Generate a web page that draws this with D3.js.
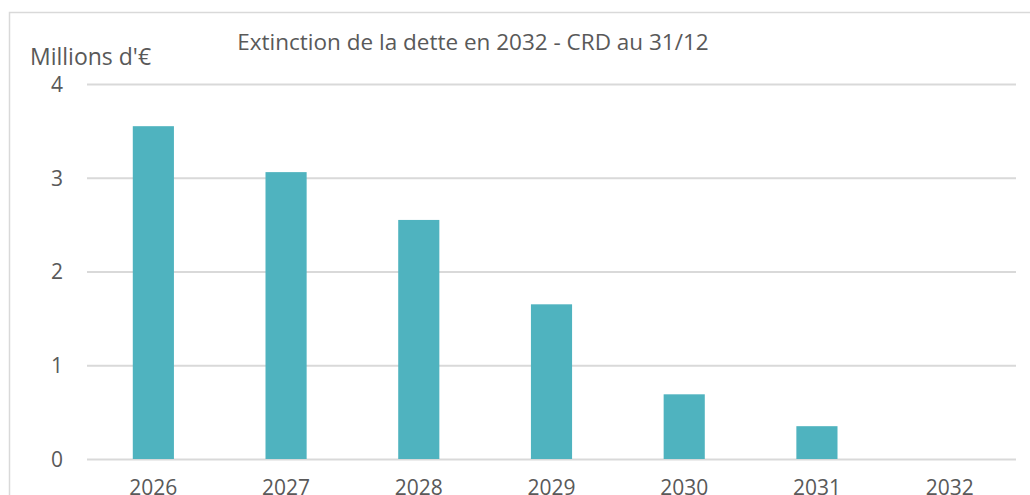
<!DOCTYPE html>
<html>
  <head>
    <meta charset="utf-8">
    <script src="https://d3js.org/d3.v7.min.js"></script>
    <style>
      body { margin: 0px; background: #fff; }
      text { font-family: "Open Sans", sans-serif; fill: #595959; }
      .domain { display: none; }
      .grid .tick line { stroke: #d9d9d9; stroke-width: 2; }
    </style>
  </head>
  <body>
    <svg width="1030" height="495"></svg>
    <script>
      const years = ['2026', '2027', '2028', '2029', '2030', '2031', '2032'];
      const crd = [3.55, 3.06, 2.55, 1.65, 0.69, 0.35, 0];
      const yTicks = [0, 1, 2, 3, 4];
      const title = 'Extinction de la dette en 2032 - CRD au 31/12';
      const yLabel = "Millions d'€";

      const margin = { left: 87, right: 14, top: 84, bottom: 36 };
      const svg = d3.select('svg');
      const width = +svg.attr('width');
      const height = +svg.attr('height');
      const innerWidth = width - margin.left - margin.right;
      const innerHeight = height - margin.top - margin.bottom;

      // chart frame (only top and left edges are visible in the crop)
      svg.append('path')
        .attr('d', `M9.5,${height} V12.5 H${width}`)
        .attr('fill', 'none')
        .attr('stroke', '#d9d9d9')
        .attr('stroke-width', 1.5);

      const g = svg.append('g')
        .attr('transform', `translate(${margin.left},${margin.top})`);

      const x = d3.scaleBand().domain(years).range([0, innerWidth]).paddingInner(0.69).paddingOuter(0.345);
      const y = d3.scaleLinear().domain([0, 4]).range([innerHeight, 0]);

      g.append('g')
        .attr('class', 'grid')
        .call(d3.axisLeft(y).tickValues(yTicks).tickSize(-innerWidth).tickFormat(''));

      g.selectAll('.bar').data(crd)
        .enter().append('rect')
          .attr('class', 'bar')
          .attr('x', (d, i) => x(years[i]))
          .attr('y', d => y(d))
          .attr('width', x.bandwidth())
          .attr('height', d => innerHeight - y(d))
          .attr('fill', '#4fb3bf');

      const yAxisG = g.append('g')
        .call(d3.axisLeft(y).tickValues(yTicks).tickFormat(d3.format('d')).tickSize(0).tickPadding(24));
      yAxisG.selectAll('text').style('font-size', '21px').attr('dy', '0.35em');

      const xAxisG = g.append('g')
        .attr('transform', `translate(0,${innerHeight})`)
        .call(d3.axisBottom(x).tickSize(0).tickPadding(21));
      xAxisG.selectAll('text').style('font-size', '21px');

      svg.append('text')
        .attr('x', 30)
        .attr('y', 65)
        .style('font-size', '23px')
        .text(yLabel);

      svg.append('text')
        .attr('x', 473)
        .attr('y', 50)
        .attr('text-anchor', 'middle')
        .style('font-size', '22.5px')
        .text(title);
    </script>
  </body>
</html>
